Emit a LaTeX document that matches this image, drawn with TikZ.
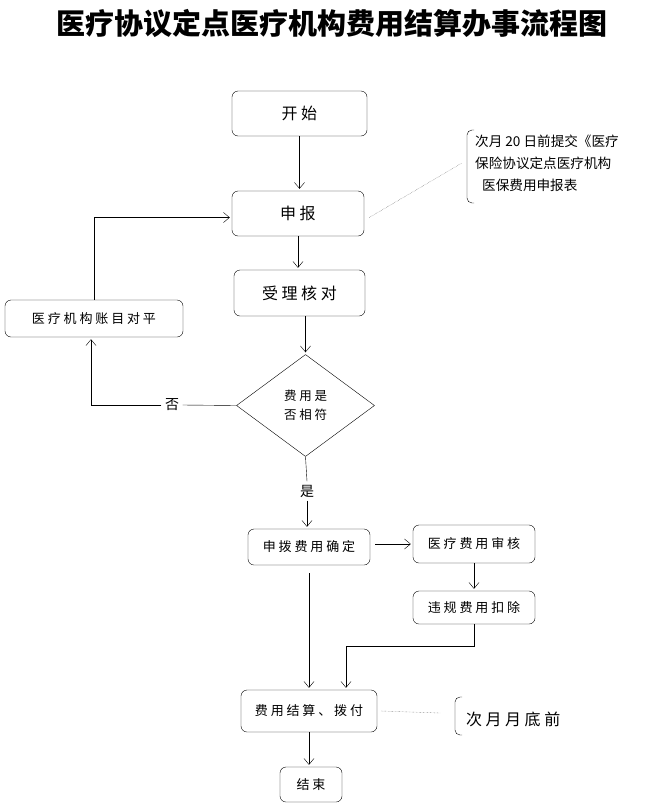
\documentclass[tikz,border=0pt]{standalone}
\usepackage{fontspec}
\setmainfont{Noto Sans CJK SC}
\newfontfamily\cjkwide[LetterSpace=22]{Noto Sans CJK SC}
\usetikzlibrary{arrows.meta,shapes.geometric,calc}

\begin{document}
\begin{tikzpicture}[x=1pt,y=-1pt,>={Straight Barb[length=6pt,width=10pt]},
 flowbox/.style={draw,rounded corners=6pt,thin,inner sep=0pt,align=center,font=\cjkwide\fontsize{13}{16}\selectfont},
 bigtext/.style={font=\cjkwide\fontsize{16}{19}\selectfont},
 decision/.style={draw,diamond,thin,inner sep=0pt,align=center,font=\cjkwide\fontsize{12.5}{19}\selectfont},
 arr/.style={->,thin,shorten >=2pt},
 note/.style={densely dotted,black!65}]
 \useasboundingbox (0,0) rectangle (648,809);
 \node[font=\bfseries\fontsize{29}{32}\selectfont] (title) at (332,24) {医疗协议定点医疗机构费用结算办事流程图};
 \node[flowbox,bigtext,minimum width=135pt,minimum height=45pt] (ks) at (299.5,113.5) {开始};
 \node[flowbox,bigtext,minimum width=132pt,minimum height=45pt] (sb) at (298,213.5) {申报};
 \node[flowbox,bigtext,minimum width=131pt,minimum height=46pt] (sl) at (299.5,293) {受理核对};
 \node[flowbox,minimum width=178pt,minimum height=37pt] (zm) at (94,318.5) {医疗机构账目对平};
 \node[decision,minimum width=138pt,minimum height=102pt] (pd) at (305.5,405.5) {费用是\\否相符};
 \node[font=\fontsize{14}{16}\selectfont] (no) at (172,405) {否};
 \node[font=\fontsize{14}{16}\selectfont] (yes) at (307,491) {是};
 \node[flowbox,minimum width=122pt,minimum height=36pt] (sp) at (309,547) {申拨费用确定};
 \node[flowbox,minimum width=122pt,minimum height=38pt] (sh) at (474,544) {医疗费用审核};
 \node[flowbox,minimum width=122pt,minimum height=33pt] (kc) at (474,607.5) {违规费用扣除};
 \node[flowbox,minimum width=136pt,minimum height=42pt] (js) at (309,711) {费用结算、拨付};
 \node[flowbox,minimum width=62pt,minimum height=35pt] (end) at (311,784.5) {结束};
 % side notes
 \node[anchor=north west,align=left,inner sep=0pt,font=\fontsize{13.6}{22}\selectfont] (note1) at (475,135) {次月 20 日前提交《医疗\\保险协议定点医疗机构\\\hspace*{7pt}医保费用申报表};
 \node[anchor=west,inner sep=0pt,font=\cjkwide\fontsize{16}{19}\selectfont] (note2) at (466,719) {次月月底前};
 \draw[thin,rounded corners=5pt] (474,130) -- (467,130) -- (467,203) -- (474,203);
 \draw[thin,rounded corners=5pt] (462,697) -- (455,697) -- (455,735) -- (462,735);
 \coordinate (brk1) at (462,163);
 \coordinate (brk2) at (440,713);
 \draw[note] ([xshift=5pt,yshift=-4pt]sb.east) -- (brk1);
 \draw[note] ([xshift=4pt]js.east) -- (brk2);
 % main flow
 \foreach \a/\b in {ks/sb,sb/sl,sh/kc,js/end} \draw[arr] (\a.south) -- (\a.south |- \b.north);
 \draw[arr] (pd.north |- sl.south) -- (pd.north);
 \draw[thin] (pd.west) -- (no.east);
 \draw[arr] (no.west) -| ([xshift=-3pt]zm.south);
 \draw[arr] (zm.north) |- ([yshift=-4pt]sb.west);
 \draw[thin] (pd.south) -- (yes.north);
 \draw[arr] (yes.south) -- (yes.south |- sp.north);
 \draw[arr] ([xshift=5pt]sp.east |- sh.west) -- (sh.west);
 \draw[arr] (kc.south) -- ++(0,22) -| ([xshift=37pt]js.north);
 \draw[arr] ([yshift=-8pt]sp.south) -- (sp.south |- js.north);
\end{tikzpicture}
\end{document}
